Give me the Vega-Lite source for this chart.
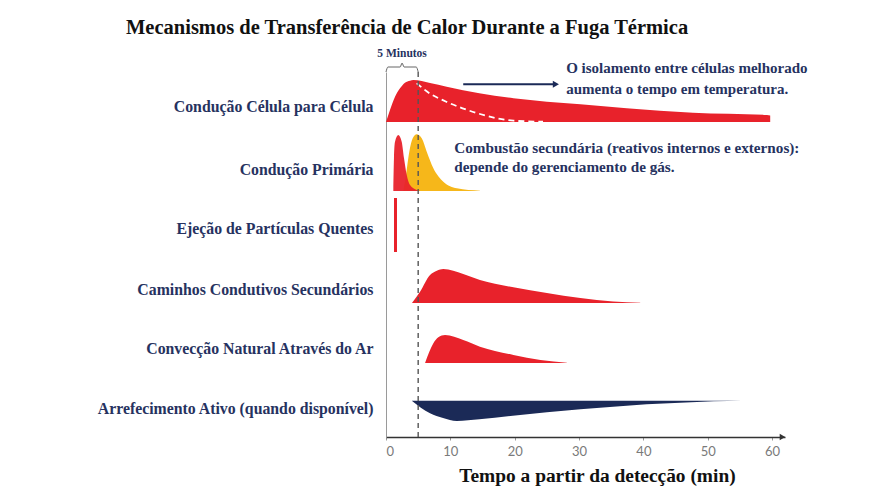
{
  "$schema": "https://vega.github.io/schema/vega-lite/v6.json",
  "width": 399,
  "height": 365,
  "autosize": {"type": "none"},
  "padding": {"left": 386, "top": 72, "right": 85, "bottom": 63},
  "background": "white",
  "config": {"view": {"stroke": null}},
  "title": {
    "text": "Mecanismos de Transferência de Calor Durante a Fuga Térmica",
    "font": "Times New Roman, Liberation Serif, serif",
    "fontSize": 20.5,
    "fontWeight": "bold",
    "color": "#111111",
    "anchor": "start",
    "frame": "group",
    "dx": -260,
    "offset": 10
  },
  "datasets": {
    "shapes": [
      {"s": "celula", "x": 0, "y": 315, "y2": 315},
      {"s": "celula", "x": 0.62, "y": 327, "y2": 315},
      {"s": "celula", "x": 1.4, "y": 340.3, "y2": 315},
      {"s": "celula", "x": 2.18, "y": 348.7, "y2": 315},
      {"s": "celula", "x": 2.95, "y": 354.3, "y2": 315},
      {"s": "celula", "x": 3.73, "y": 356.3, "y2": 315},
      {"s": "celula", "x": 4.25, "y": 357, "y2": 315},
      {"s": "celula", "x": 6.84, "y": 354, "y2": 315},
      {"s": "celula", "x": 9.43, "y": 350.3, "y2": 315},
      {"s": "celula", "x": 14.5, "y": 343.7, "y2": 315},
      {"s": "celula", "x": 19.8, "y": 338.7, "y2": 315},
      {"s": "celula", "x": 25.0, "y": 335.3, "y2": 315},
      {"s": "celula", "x": 30.2, "y": 332.7, "y2": 315},
      {"s": "celula", "x": 37.4, "y": 328.7, "y2": 315},
      {"s": "celula", "x": 47.7, "y": 324.3, "y2": 315},
      {"s": "celula", "x": 59.2, "y": 322, "y2": 315},
      {"s": "celula", "x": 59.7, "y": 321.5, "y2": 315},
      {"s": "amarelo", "x": 2.69, "y": 246, "y2": 246},
      {"s": "amarelo", "x": 3.11, "y": 262, "y2": 246},
      {"s": "amarelo", "x": 3.62, "y": 285.3, "y2": 246},
      {"s": "amarelo", "x": 4.15, "y": 298.7, "y2": 246},
      {"s": "amarelo", "x": 4.77, "y": 302.7, "y2": 246},
      {"s": "amarelo", "x": 5.55, "y": 298.7, "y2": 246},
      {"s": "amarelo", "x": 6.33, "y": 285.3, "y2": 246},
      {"s": "amarelo", "x": 7.36, "y": 268.7, "y2": 246},
      {"s": "amarelo", "x": 8.91, "y": 255.3, "y2": 246},
      {"s": "amarelo", "x": 11.0, "y": 248.7, "y2": 246},
      {"s": "amarelo", "x": 14.6, "y": 246.3, "y2": 246},
      {"s": "primaria", "x": 1.14, "y": 246, "y2": 246},
      {"s": "primaria", "x": 1.24, "y": 279, "y2": 246},
      {"s": "primaria", "x": 1.4, "y": 295.3, "y2": 246},
      {"s": "primaria", "x": 1.91, "y": 302, "y2": 246},
      {"s": "primaria", "x": 2.44, "y": 295.3, "y2": 246},
      {"s": "primaria", "x": 2.8, "y": 278.7, "y2": 246},
      {"s": "primaria", "x": 3.22, "y": 262, "y2": 246},
      {"s": "primaria", "x": 3.73, "y": 252, "y2": 246},
      {"s": "primaria", "x": 4.77, "y": 247, "y2": 246},
      {"s": "primaria", "x": 5.29, "y": 246, "y2": 246},
      {"s": "caminhos", "x": 4.04, "y": 134, "y2": 134},
      {"s": "caminhos", "x": 5.29, "y": 145.3, "y2": 134},
      {"s": "caminhos", "x": 6.84, "y": 162, "y2": 134},
      {"s": "caminhos", "x": 7.9, "y": 166.3, "y2": 134},
      {"s": "caminhos", "x": 8.9, "y": 168, "y2": 134},
      {"s": "caminhos", "x": 12.0, "y": 163, "y2": 134},
      {"s": "caminhos", "x": 14.6, "y": 157, "y2": 134},
      {"s": "caminhos", "x": 19.8, "y": 149.7, "y2": 134},
      {"s": "caminhos", "x": 25.0, "y": 144, "y2": 134},
      {"s": "caminhos", "x": 30.2, "y": 139, "y2": 134},
      {"s": "caminhos", "x": 35.3, "y": 135.5, "y2": 134},
      {"s": "caminhos", "x": 39.5, "y": 134.3, "y2": 134},
      {"s": "conveccao", "x": 6.07, "y": 74, "y2": 74},
      {"s": "conveccao", "x": 7.36, "y": 93.7, "y2": 74},
      {"s": "conveccao", "x": 8.13, "y": 99.7, "y2": 74},
      {"s": "conveccao", "x": 9.18, "y": 102, "y2": 74},
      {"s": "conveccao", "x": 12.0, "y": 97, "y2": 74},
      {"s": "conveccao", "x": 14.6, "y": 90.3, "y2": 74},
      {"s": "conveccao", "x": 19.8, "y": 82, "y2": 74},
      {"s": "conveccao", "x": 24.0, "y": 77, "y2": 74},
      {"s": "conveccao", "x": 28.1, "y": 74.3, "y2": 74},
      {"s": "arrefecimento", "x": 4.0, "y": 36.3, "y2": 36.3},
      {"s": "arrefecimento", "x": 6.84, "y": 23.7, "y2": 36.3},
      {"s": "arrefecimento", "x": 8.86, "y": 19, "y2": 36.3},
      {"s": "arrefecimento", "x": 11.0, "y": 16, "y2": 36.3},
      {"s": "arrefecimento", "x": 14.5, "y": 17.7, "y2": 36.3},
      {"s": "arrefecimento", "x": 19.7, "y": 21.3, "y2": 36.3},
      {"s": "arrefecimento", "x": 25.0, "y": 24.7, "y2": 36.3},
      {"s": "arrefecimento", "x": 30.2, "y": 27.7, "y2": 36.3},
      {"s": "arrefecimento", "x": 35.3, "y": 30.3, "y2": 36.3},
      {"s": "arrefecimento", "x": 40.5, "y": 32.7, "y2": 36.3},
      {"s": "arrefecimento", "x": 45.7, "y": 34.3, "y2": 36.3},
      {"s": "arrefecimento", "x": 50.9, "y": 35.7, "y2": 36.3},
      {"s": "arrefecimento", "x": 55.3, "y": 36.3, "y2": 36.3}
    ],
    "dashedDecay": [
      {"x": 4.77, "y": 353.7},
      {"x": 6.77, "y": 343.7},
      {"x": 9.36, "y": 335.3},
      {"x": 11.9, "y": 328.7},
      {"x": 14.6, "y": 323},
      {"x": 17.2, "y": 318.7},
      {"x": 19.8, "y": 316.3},
      {"x": 24.4, "y": 315.3}
    ],
    "ejecao": [{"x": 1.48, "y": 239, "y2": 185}],
    "marker": [{"x": 5, "y": 0, "y2": 365}],
    "bracket": [
      {"o": 1, "x": 0, "y": 365},
      {"o": 2, "x": 0.3, "y": 370},
      {"o": 3, "x": 2.2, "y": 370},
      {"o": 4, "x": 2.5, "y": 374},
      {"o": 5, "x": 2.8, "y": 370},
      {"o": 6, "x": 4.7, "y": 370},
      {"o": 7, "x": 5, "y": 365}
    ],
    "labels": [
      {"x": 2.5, "y": 383, "text": "5 Minutos"}
    ],
    "note1": [
      {"x": 28.0, "y": 368.7, "text": "O isolamento entre células melhorado\naumenta o tempo em temperatura."}
    ],
    "note2": [
      {"x": 10.6, "y": 288.7, "text": "Combustão secundária (reativos internos e externos):\ndepende do gerenciamento de gás."}
    ],
    "arrowLine": [
      {"x": 12.0, "y": 352.7},
      {"x": 26.0, "y": 352.7}
    ],
    "arrowHead": [{"x": 26.4, "y": 352.7}],
    "axisHead": [{"x": 61.6, "y": 0}]
  },
  "encoding": {
    "x": {
      "field": "x",
      "type": "quantitative",
      "scale": {"domain": [0, 62], "nice": false, "zero": false},
      "axis": {
        "title": "Tempo a partir da detecção (min)",
        "values": [0, 10, 20, 30, 40, 50, 60],
        "format": "d",
        "grid": false,
        "domainColor": "#333333",
        "domainWidth": 1.5,
        "tickColor": "#999999",
        "tickSize": 3,
        "labelFont": "Lato",
        "labelFontSize": 13,
        "labelColor": "#7a7a7a",
        "labelPadding": 5,
        "titleFont": "Times New Roman, Liberation Serif, serif",
        "titleFontSize": 19.4,
        "titleFontWeight": "bold",
        "titleColor": "#111111",
        "titlePadding": 8,
        "titleX": 211
      }
    },
    "y": {
      "field": "y",
      "type": "quantitative",
      "scale": {"domain": [0, 365], "nice": false, "zero": false},
      "axis": {
        "title": null,
        "values": [331, 267.7, 208.7, 147.7, 88.7, 28.7],
        "labelExpr": "datum.value > 300 ? 'Condução Célula para Célula' : datum.value > 240 ? 'Condução Primária ' : datum.value > 180 ? 'Ejeção de Partículas Quentes' : datum.value > 120 ? 'Caminhos Condutivos Secundários' : datum.value > 60 ? 'Convecção Natural Através do Ar' : 'Arrefecimento Ativo (quando disponível)'",
        "grid": false,
        "ticks": false,
        "domainColor": "#9a9a9a",
        "labelFont": "Times New Roman, Liberation Serif, serif",
        "labelFontWeight": "bold",
        "labelFontSize": 15.8,
        "labelColor": "#263260",
        "labelPadding": 13,
        "labelLimit": 400
      }
    }
  },
  "layer": [
    {
      "data": {"name": "shapes"},
      "transform": [{"filter": "datum.s == 'celula'"}],
      "mark": {"type": "area", "interpolate": "monotone", "color": "#E8222B"},
      "encoding": {"y2": {"field": "y2"}}
    },
    {
      "data": {"name": "shapes"},
      "transform": [{"filter": "datum.s == 'amarelo'"}],
      "mark": {"type": "area", "interpolate": "monotone", "color": "#F6B71A"},
      "encoding": {"y2": {"field": "y2"}}
    },
    {
      "data": {"name": "shapes"},
      "transform": [{"filter": "datum.s == 'primaria'"}],
      "mark": {"type": "area", "interpolate": "monotone", "color": "#E8222B", "opacity": 0.95},
      "encoding": {"y2": {"field": "y2"}}
    },
    {
      "data": {"name": "shapes"},
      "transform": [{"filter": "datum.s == 'caminhos'"}],
      "mark": {"type": "area", "interpolate": "monotone", "color": "#E8222B"},
      "encoding": {"y2": {"field": "y2"}}
    },
    {
      "data": {"name": "shapes"},
      "transform": [{"filter": "datum.s == 'conveccao'"}],
      "mark": {"type": "area", "interpolate": "monotone", "color": "#E8222B"},
      "encoding": {"y2": {"field": "y2"}}
    },
    {
      "data": {"name": "shapes"},
      "transform": [{"filter": "datum.s == 'arrefecimento'"}],
      "mark": {"type": "area", "interpolate": "monotone", "color": "#1B2A57"},
      "encoding": {"y2": {"field": "y2"}}
    },
    {
      "data": {"name": "dashedDecay"},
      "mark": {"type": "line", "interpolate": "monotone", "color": "#ffffff", "strokeWidth": 1.8, "strokeDash": [6, 4]},
      "encoding": {}
    },
    {
      "data": {"name": "ejecao"},
      "mark": {"type": "rule", "color": "#E8222B", "strokeWidth": 3},
      "encoding": {"y2": {"field": "y2"}}
    },
    {
      "data": {"name": "marker"},
      "mark": {"type": "rule", "color": "#555555", "strokeWidth": 1.4, "strokeDash": [5, 4]},
      "encoding": {"y2": {"field": "y2"}}
    },
    {
      "data": {"name": "bracket"},
      "mark": {"type": "line", "interpolate": "monotone", "color": "#666666", "strokeWidth": 1},
      "encoding": {"order": {"field": "o"}}
    },
    {
      "data": {"name": "labels"},
      "mark": {"type": "text", "font": "Times New Roman, Liberation Serif, serif", "fontWeight": "bold", "fontSize": 11.5, "color": "#263260", "align": "center", "baseline": "middle"},
      "encoding": {"text": {"field": "text"}}
    },
    {
      "data": {"name": "note1"},
      "mark": {"type": "text", "font": "Times New Roman, Liberation Serif, serif", "fontWeight": "bold", "fontSize": 15, "color": "#263260", "align": "left", "baseline": "middle", "lineBreak": "\n", "lineHeight": 21},
      "encoding": {"text": {"field": "text"}}
    },
    {
      "data": {"name": "note2"},
      "mark": {"type": "text", "font": "Times New Roman, Liberation Serif, serif", "fontWeight": "bold", "fontSize": 15.2, "color": "#263260", "align": "left", "baseline": "middle", "lineBreak": "\n", "lineHeight": 18.5},
      "encoding": {"text": {"field": "text"}}
    },
    {
      "data": {"name": "arrowLine"},
      "mark": {"type": "line", "color": "#1B2A57", "strokeWidth": 2},
      "encoding": {}
    },
    {
      "data": {"name": "arrowHead"},
      "mark": {"type": "point", "shape": "triangle-right", "filled": true, "size": 50, "color": "#1B2A57", "opacity": 1},
      "encoding": {}
    },
    {
      "data": {"name": "axisHead"},
      "mark": {"type": "point", "shape": "triangle-right", "filled": true, "size": 40, "color": "#333333", "opacity": 1},
      "encoding": {}
    }
  ]
}
